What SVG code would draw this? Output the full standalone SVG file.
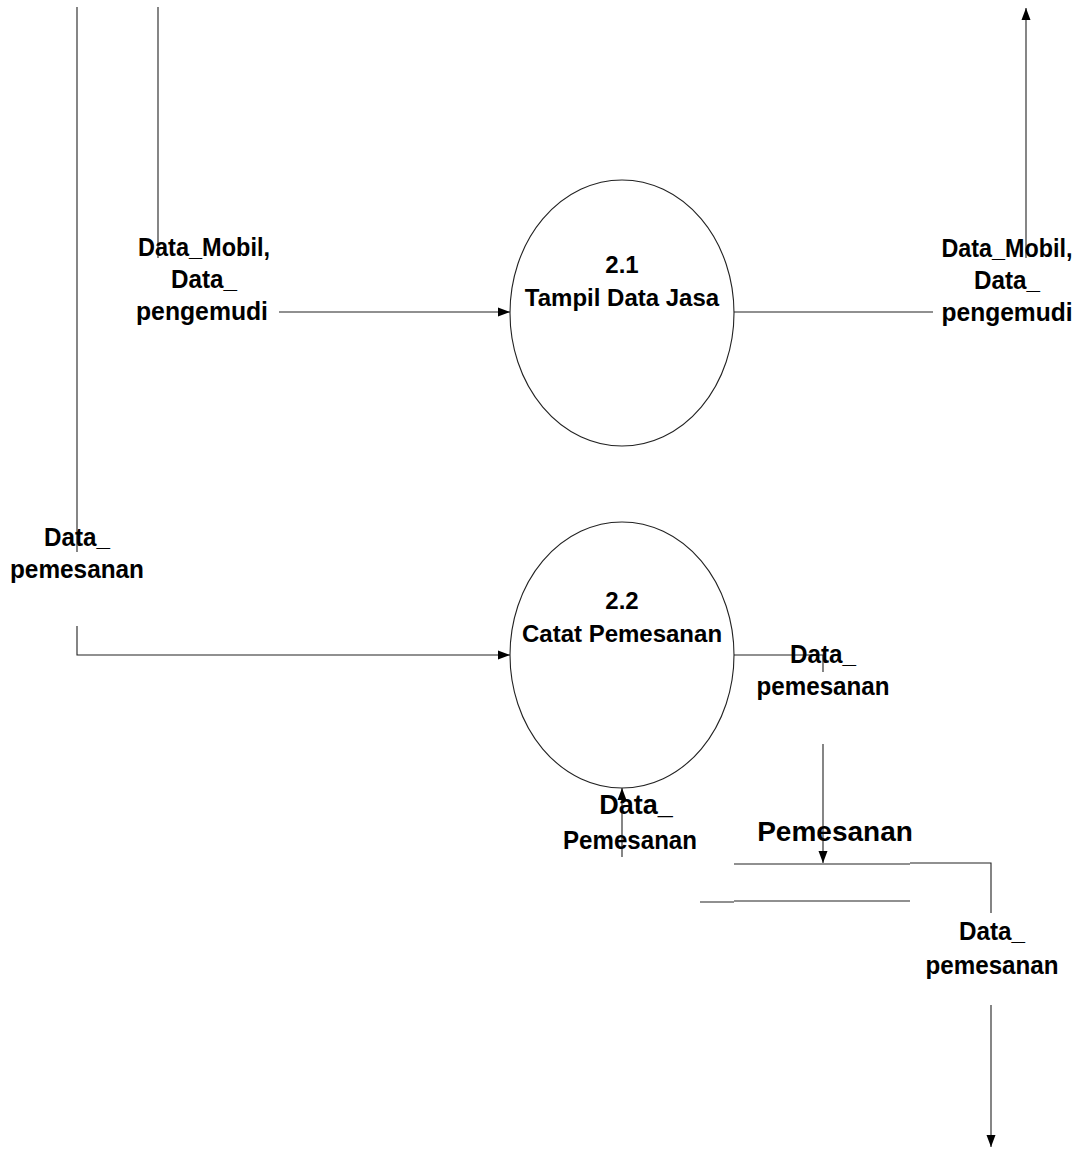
<svg xmlns="http://www.w3.org/2000/svg" width="1083" height="1149" viewBox="0 0 1083 1149">
<style>
text{font-family:"Liberation Sans",Arial,sans-serif;font-weight:bold;font-size:24px;fill:#000;text-anchor:middle}
.fl{font-size:26px}
.ln{fill:none;stroke:#222;stroke-width:1.1}
.proc{fill:#fff;stroke:#222;stroke-width:1.1}
</style>
<defs>
<marker id="ah" markerUnits="userSpaceOnUse" markerWidth="12" markerHeight="11" refX="12" refY="5.5" orient="auto">
<path d="M0,1 L12,5.5 L0,10 z" fill="#000"/>
</marker>
</defs>
<rect width="1083" height="1149" fill="#fff"/>
<g id="connectors">
<path class="ln" d="M77 7 V552"/>
<path class="ln" d="M77 626 V655 H510" marker-end="url(#ah)"/>
<path class="ln" d="M158 7 V258"/>
<path class="ln" d="M279 312 H510" marker-end="url(#ah)"/>
<path class="ln" d="M734 312 H933"/>
<path class="ln" d="M1026 258 V8" marker-end="url(#ah)"/>
<path class="ln" d="M734 655 H823 V672"/>
<path class="ln" d="M823 744 V863" marker-end="url(#ah)"/>
<path class="ln" d="M622 857 V788" marker-end="url(#ah)"/>
<path class="ln" d="M910 863 H991 V913"/>
<path class="ln" d="M991 1005 V1147" marker-end="url(#ah)"/>
</g>
<g id="p21">
<ellipse class="proc" cx="622" cy="313" rx="112" ry="133"/>
<text x="622" y="273">2.1</text>
<text x="622" y="306">Tampil Data Jasa</text>
</g>
<g id="p22">
<ellipse class="proc" cx="622" cy="655" rx="112" ry="133"/>
<text x="622" y="609">2.2</text>
<text x="622" y="642">Catat Pemesanan</text>
</g>
<g id="store">
<path class="ln" d="M734 864 H910"/>
<path class="ln" d="M700 902 H734"/>
<path class="ln" d="M734 901 H910"/>
<text x="835" y="841" style="font-size:28px">Pemesanan</text>
</g>
<g id="labels">
<text class="fl" x="204" y="256" textLength="132" lengthAdjust="spacingAndGlyphs">Data_Mobil,</text>
<text class="fl" x="204" y="288" textLength="66" lengthAdjust="spacingAndGlyphs">Data_</text>
<text class="fl" x="202" y="320" textLength="132" lengthAdjust="spacingAndGlyphs">pengemudi</text>
<text class="fl" x="1007" y="257" textLength="131" lengthAdjust="spacingAndGlyphs">Data_Mobil,</text>
<text class="fl" x="1007" y="289" textLength="66" lengthAdjust="spacingAndGlyphs">Data_</text>
<text class="fl" x="1007" y="321" textLength="131" lengthAdjust="spacingAndGlyphs">pengemudi</text>
<text class="fl" x="77" y="546" textLength="66" lengthAdjust="spacingAndGlyphs">Data_</text>
<text class="fl" x="77" y="578" textLength="134" lengthAdjust="spacingAndGlyphs">pemesanan</text>
<text class="fl" x="823" y="663" textLength="66" lengthAdjust="spacingAndGlyphs">Data_</text>
<text class="fl" x="823" y="695" textLength="133" lengthAdjust="spacingAndGlyphs">pemesanan</text>
<text x="636" y="814" style="font-size:27px">Data_</text>
<text class="fl" x="630" y="849" textLength="134" lengthAdjust="spacingAndGlyphs">Pemesanan</text>
<text class="fl" x="992" y="940" textLength="66" lengthAdjust="spacingAndGlyphs">Data_</text>
<text class="fl" x="992" y="974" textLength="133" lengthAdjust="spacingAndGlyphs">pemesanan</text>
</g>
</svg>
